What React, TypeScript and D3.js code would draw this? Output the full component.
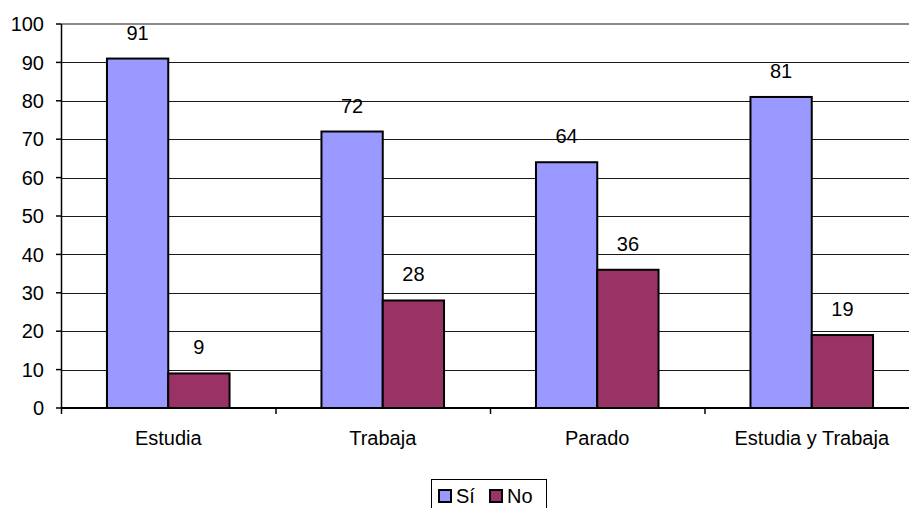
import React from "react";
import * as d3 from "d3";

const categories = ["Estudia", "Trabaja", "Parado", "Estudia y Trabaja"];
const seriesNames = ["Sí", "No"];
const siValues = [91, 72, 64, 81];
const noValues = [9, 28, 36, 19];
const yTicks = [0, 10, 20, 30, 40, 50, 60, 70, 80, 90, 100];
const seriesColors = ["#9999FF", "#993366"];

const W = 909;
const H = 508;
const plotLeft = 61;
const plotRight = 919;
const plotTop = 24;
const plotBottom = 408;
const FONT = "'Liberation Sans', Arial, sans-serif";
const FS = 20;

export default function App() {
  const x = d3.scaleBand<string>().domain(categories).range([plotLeft, plotRight]).padding(0);
  const y = d3.scaleLinear().domain([0, 100]).range([plotBottom, plotTop]);
  const band = x.bandwidth();
  const barW = band / 3.5;
  const series = [siValues, noValues];

  return (
    <svg width={W} height={H} style={{ position: "absolute", left: 0, top: 0, background: "#fff" }} fontFamily={FONT}>
      {/* gridlines */}
      {yTicks.filter((t) => t > 0 && t < 100).map((t) => (
        <line key={t} x1={plotLeft} x2={W} y1={Math.round(y(t)) + 0.5} y2={Math.round(y(t)) + 0.5} stroke="#1a1a1a" strokeWidth={1} />
      ))}
      <line x1={plotLeft} x2={W} y1={y(100)} y2={y(100)} stroke="#8c8c8c" strokeWidth={2} />
      {/* bars with value labels */}
      {categories.map((c, i) => {
        const cx = (x(c) as number) + band / 2;
        return series.map((vals, s) => {
          const bx = s === 0 ? cx - barW : cx;
          return (
            <g key={c + s}>
              <rect x={bx} y={y(vals[i])} width={barW} height={plotBottom - y(vals[i])} fill={seriesColors[s]} stroke="#000" strokeWidth={2} />
              <text x={bx + barW / 2} y={y(vals[i]) - 19} textAnchor="middle" fontSize={FS} fill="#000">{vals[i]}</text>
            </g>
          );
        });
      })}
      {/* y axis */}
      <line x1={plotLeft + 0.5} x2={plotLeft + 0.5} y1={plotTop} y2={plotBottom} stroke="#000" strokeWidth={1.5} />
      {yTicks.map((t) => (
        <g key={t}>
          <line x1={plotLeft - 5} x2={plotLeft} y1={y(t)} y2={y(t)} stroke="#000" strokeWidth={1.5} />
          <text x={44} y={y(t)} dy="0.36em" textAnchor="end" fontSize={FS} fill="#000">{t}</text>
        </g>
      ))}
      {/* x axis */}
      <line x1={plotLeft} x2={W} y1={plotBottom} y2={plotBottom} stroke="#000" strokeWidth={2} />
      {categories.map((c) => (
        <line key={c} x1={(x(c) as number) + 0.5} x2={(x(c) as number) + 0.5} y1={plotBottom} y2={plotBottom + 6} stroke="#000" strokeWidth={1.5} />
      ))}
      {categories.map((c) => (
        <text key={c} x={(x(c) as number) + band / 2} y={445} textAnchor="middle" fontSize={FS} fill="#000">{c}</text>
      ))}
      {/* legend */}
      <rect x={431.5} y={479.5} width={115} height={40} fill="#fff" stroke="#000" strokeWidth={1} />
      {seriesNames.map((n, i) => (
        <g key={n} transform={`translate(${439 + i * 51},0)`}>
          <rect x={0} y={490} width={12} height={12} fill={seriesColors[i]} stroke="#000" strokeWidth={2} />
          <text x={17} y={503} fontSize={FS} fill="#000">{n}</text>
        </g>
      ))}
    </svg>
  );
}
